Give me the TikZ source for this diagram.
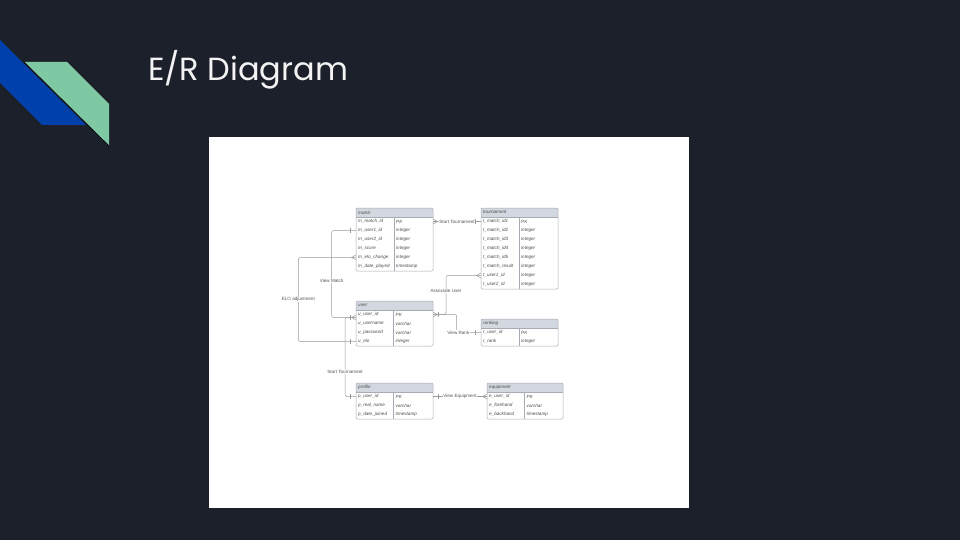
\documentclass[tikz,border=0pt]{standalone}
\usepackage{fontspec}
\setmainfont{Liberation Sans}
\newfontfamily\titlefont{Poppins}
\definecolor{bgdark}{HTML}{1C202B}
\definecolor{blueband}{HTML}{0040AA}
\definecolor{greenband}{HTML}{7FC8A4}
\definecolor{hdrfill}{HTML}{D3D8E0}
\definecolor{tblline}{HTML}{A7ACB4}
\definecolor{celltext}{HTML}{4A4A4A}
\definecolor{connline}{HTML}{9A9A9A}
\definecolor{lbltext}{HTML}{555555}
\definecolor{titletext}{HTML}{F3F3F3}
\tikzset{
  tblborder/.style={draw=tblline, line width=0.5pt},
  rowbox/.style={rectangle, minimum height=9pt, inner sep=0pt, outer sep=0pt},
  cell/.style={font=\fontsize{4.6}{5}\selectfont\itshape, text=celltext, inner sep=0pt, anchor=west},
  hdrtext/.style={font=\fontsize{4.6}{5}\selectfont\itshape, text=celltext, inner sep=0pt, anchor=west},
  conn/.style={draw=connline, line width=0.5pt, rounded corners=2pt},
  endmark/.style={draw=connline, line width=0.5pt},
  lbl/.style={font=\fontsize{4.6}{5}\selectfont, text=lbltext, fill=white, inner sep=0.6pt},
  titlestyle/.style={font=\titlefont\fontsize{32}{36}\selectfont, text=titletext, inner sep=0pt}
}
% #1 name, #2 x, #3 y, #4 width, #5 divider offset, #6 title, #7 number of rows, #8 rows
\newcommand{\ERtable}[8]{%
  \fill[hdrfill] (#2,#3) rectangle ++(#4,9);
  \node[hdrtext] (#1-h) at ({#2+2},{#3+4.5}) {#6};
  \foreach \vk/\vt [count=\vi] in {#8} {
    \node[rowbox, minimum width=#4pt] (#1-\vi) at ({#2+#4/2},{#3+4.5+9*\vi}) {};
    \node[cell] at ({#2+2},{#3+4.5+9*\vi}) {\vk};
    \node[cell] at ({#2+#5+2},{#3+4.5+9*\vi}) {\vt};
  }
  \draw[tblborder] (#2,{#3+9}) -- ++(#4,0);
  \draw[tblborder] ({#2+#5},{#3+9}) -- ({#2+#5},{#3+9+9*#7});
  \draw[tblborder, rounded corners=1.2pt] (#2,#3) rectangle ++(#4,{9+9*#7});
}
\newcommand{\crowW}[1]{\draw[endmark] ([xshift=-4.5pt]#1) -- ([yshift=2.5pt]#1) ([xshift=-4.5pt]#1) -- ([yshift=-2.5pt]#1);}
\newcommand{\crowE}[1]{\draw[endmark] ([xshift=4.5pt]#1) -- ([yshift=2.5pt]#1) ([xshift=4.5pt]#1) -- ([yshift=-2.5pt]#1);}
\newcommand{\barW}[1]{\draw[endmark] ([xshift=-5.5pt,yshift=2.5pt]#1) -- ([xshift=-5.5pt,yshift=-2.5pt]#1);}
\newcommand{\barE}[1]{\draw[endmark] ([xshift=5.5pt,yshift=2.5pt]#1) -- ([xshift=5.5pt,yshift=-2.5pt]#1);}
\begin{document}
\begin{tikzpicture}[x=1pt,y=-1pt]
\useasboundingbox (0,0) rectangle (960,540);
\fill[bgdark] (0,0) rectangle (960,540);
% decoration
\fill[blueband] (0,40) -- (86,125) -- (42,125) -- (0,83) -- cycle;
\fill[greenband] (24,62) -- (67,62) -- (109,104) -- (109,146) -- cycle;
\draw[black!70!bgdark, line width=0.8pt] (24,62) -- (109,146);
% title
\node[titlestyle, anchor=base west] (title) at (148,80.7) {E/R Diagram};
% white canvas
\fill[white] (209,137) rectangle (689,508);
% tables
\ERtable{match}{356}{208}{77}{38}{match}{6}{m\_match\_id/PK, m\_user1\_id/integer, m\_user2\_id/integer, m\_score/integer, m\_elo\_change/integer, m\_date\_played/timestamp}
\ERtable{tour}{481}{208}{77}{38}{tournament}{8}{t\_match\_id1/PK, t\_match\_id2/integer, t\_match\_id3/integer, t\_match\_id4/integer, t\_match\_id5/integer, t\_match\_result/integer, t\_user1\_id/integer, t\_user2\_id/integer}
\ERtable{user}{356}{301}{77}{37.5}{user}{4}{u\_user\_id/PK, u\_username/varchar, u\_password/varchar, u\_elo/integer}
\ERtable{rank}{481}{319}{77}{38}{ranking}{2}{r\_user\_id/PK, r\_rank/integer}
\ERtable{prof}{356}{383}{77}{37.5}{profile}{3}{p\_user\_id/PK, p\_real\_name/varchar, p\_date\_joined/timestamp}
\ERtable{equip}{487}{383}{76}{37.5}{equipment}{3}{e\_user\_id/PK, e\_forehand/varchar, e\_backhand/timestamp}
\coordinate (uL) at ([yshift=-3pt]user-1.west);
% connectors
\draw[conn] (match-1.east) -- node[lbl]{Start Tournament} (tour-1.west);
\crowE{match-1.east} \barW{tour-1.west}
\draw[conn] (match-2.west) -- ++(-24.3,0) |- node[lbl,pos=0.29]{View Match} (uL);
\barW{match-2.west} \crowW{uL}
\draw[conn] (match-5.west) -- ++(-57.7,0) |- node[lbl,pos=0.25]{ELO adjustment} (user-4.west);
\crowW{match-5.west} \barW{user-4.west}
\draw[conn] (uL) -- ++(-11,0) |- node[lbl,pos=0.345]{Start Tournament} (prof-1.west);
\barW{uL} \barW{prof-1.west}
\draw[conn] (tour-7.west) -- ++(-35,0) |- node[lbl,pos=0.2]{Associate User} (user-1.east);
\crowW{tour-7.west} \crowE{user-1.east} \barE{user-1.east}
\draw[conn] (user-1.east) -- ++(23.7,0) |- node[lbl,pos=0.535]{View Rank} (rank-1.west);
\barW{rank-1.west}
\draw[conn] (prof-1.east) -- node[lbl]{View Equipment} (equip-1.west);
\barE{prof-1.east} \crowW{equip-1.west}
\end{tikzpicture}
\end{document}
